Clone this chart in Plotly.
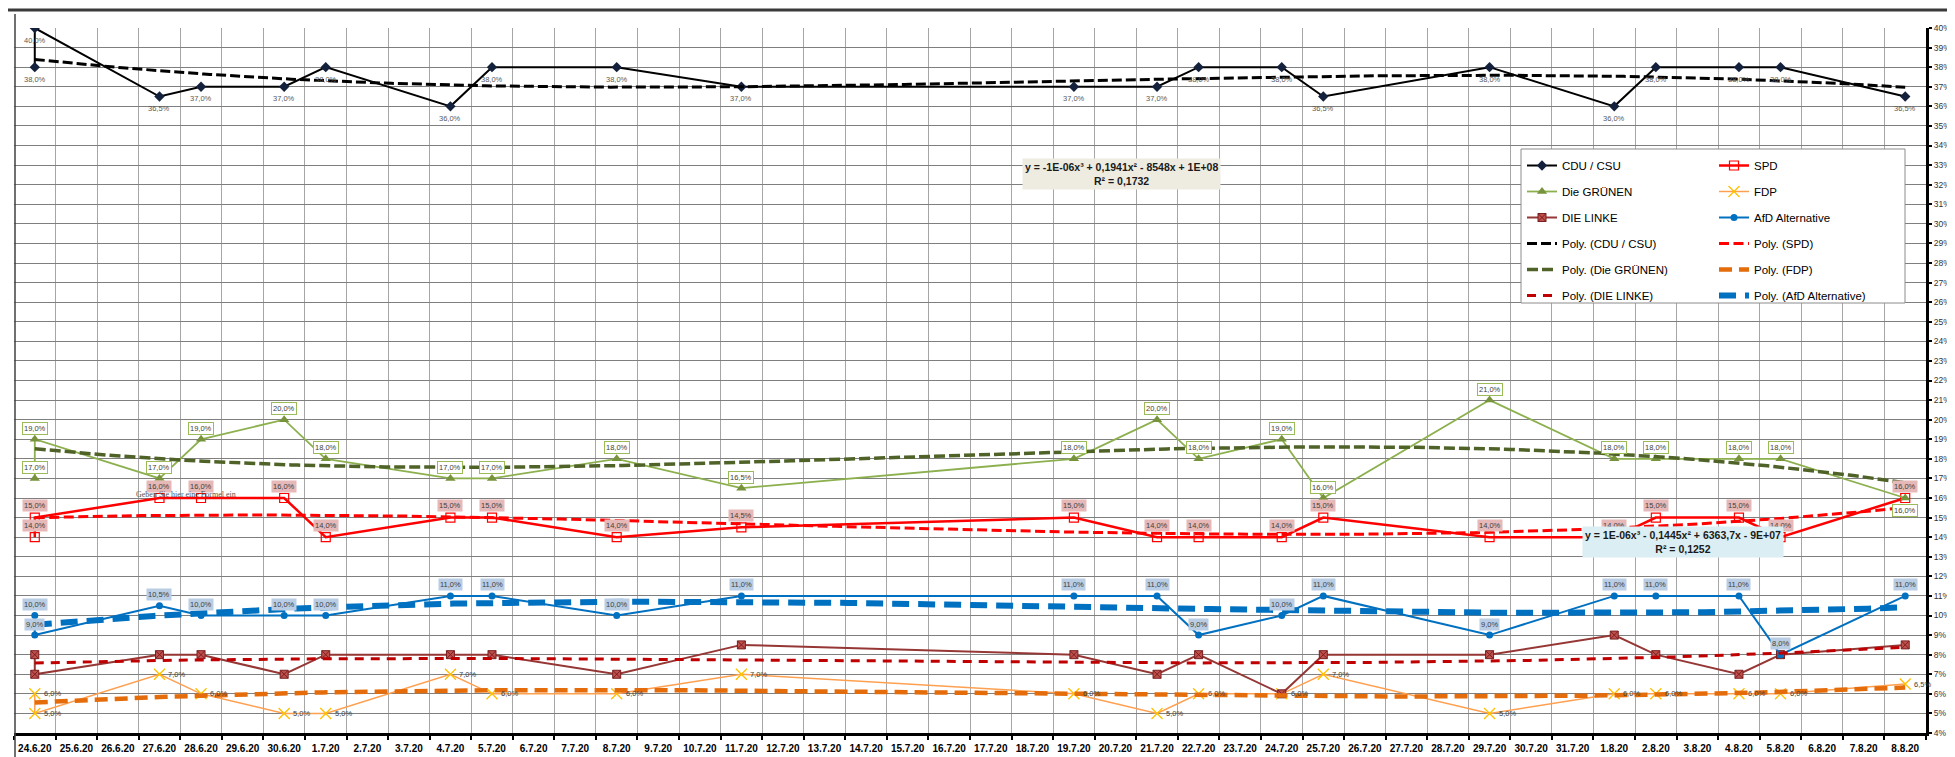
import numpy as np
import pandas as pd
import plotly.graph_objects as go

# ---------------- data ----------------
axis_days = ["24.6.20", "25.6.20", "26.6.20", "27.6.20", "28.6.20", "29.6.20", "30.6.20",
             "1.7.20", "2.7.20", "3.7.20", "4.7.20", "5.7.20", "6.7.20", "7.7.20", "8.7.20",
             "9.7.20", "10.7.20", "11.7.20", "12.7.20", "13.7.20", "14.7.20", "15.7.20",
             "16.7.20", "17.7.20", "18.7.20", "19.7.20", "20.7.20", "21.7.20", "22.7.20",
             "23.7.20", "24.7.20", "25.7.20", "26.7.20", "27.7.20", "28.7.20", "29.7.20",
             "30.7.20", "31.7.20", "1.8.20", "2.8.20", "3.8.20", "4.8.20", "5.8.20",
             "6.8.20", "7.8.20", "8.8.20"]

poll_dates = ["24.6.20", "24.6.20", "27.6.20", "28.6.20", "30.6.20", "1.7.20", "4.7.20",
              "5.7.20", "8.7.20", "11.7.20", "19.7.20", "21.7.20", "22.7.20", "24.7.20",
              "25.7.20", "29.7.20", "1.8.20", "2.8.20", "4.8.20", "5.8.20", "8.8.20"]

cdu    = [38, 40, 36.5, 37, 37, 38, 36, 38, 38, 37, 37, 37, 38, 38, 36.5, 38, 36, 38, 38, 38, 36.5]
spd    = [14, 15, 16, 16, 16, 14, 15, 15, 14, 14.5, 15, 14, 14, 14, 15, 14, 14, 15, 15, 14, 16]
gruene = [17, 19, 17, 19, 20, 18, 17, 17, 18, 16.5, 18, 20, 18, 19, 16, 21, 18, 18, 18, 18, 16]
fdp    = [6, 5, 7, 6, 5, 5, 7, 6, 6, 7, 6, 5, 6, 6, 7, 5, 6, 6, 6, 6, 6.5]
linke  = [8, 7, 8, 8, 7, 8, 8, 8, 7, 8.5, 8, 7, 8, 6, 8, 8, 9, 8, 7, 8, 8.5]
afd    = [10, 9, 10.5, 10, 10, 10, 11, 11, 10, 11, 11, 11, 9, 10, 11, 9, 11, 11, 11, 8, 11]

eq_cdu = "y = -1E-06x³ + 0,1941x² - 8548x + 1E+08<br>R² = 0,1732"
eq_afd = "y = 1E-06x³ - 0,1445x² + 6363,7x - 9E+07<br>R² = 0,1252"
formula_hint = "Geben Sie hier eine Formel ein"

# ---------------- helpers ----------------
def to_dt(s):
    return pd.to_datetime(s, format="%d.%m.%y")

axis_dt = [to_dt(d) for d in axis_days]
poll_dt = [to_dt(d) for d in poll_dates]
t0 = axis_dt[0]
poll_num = np.array([(d - t0).days for d in poll_dt], dtype=float)
fine_num = np.linspace(poll_num.min(), poll_num.max(), 300)
fine_dt = [t0 + pd.Timedelta(days=float(v)) for v in fine_num]

def fmt(v):
    return f"{v:.1f}".replace(".", ",") + "%"

FONT = "Liberation Sans, Arial, sans-serif"

W, H = 1955, 757
ML, MR, MT, MB = 6, 37, 20, 32
PW, PH = W - ML - MR, H - MT - MB

def px_x(px):
    return (px - ML) / PW

def px_y(py):
    return 1 - (py - MT) / PH

series = [
    dict(name="CDU / CSU", y=cdu, color="#000000", width=2,
         marker=dict(symbol="diamond", size=8, color="#14213D", line=dict(width=0)),
         legend="legend",
         trend=dict(color="#000000", width=3, dash="10px,4px"),
         label="cdu"),
    dict(name="SPD", y=spd, color="#FF0000", width=2.5,
         marker=dict(symbol="square-open", size=9, color="#FF0000", line=dict(width=1.2)),
         legend="legend2",
         trend=dict(color="#FF0000", width=3, dash="10px,4.5px"),
         label="spd"),
    dict(name="Die GRÜNEN", y=gruene, color="#8CB04E", width=1.8,
         marker=dict(symbol="triangle-up", size=9, color="#77933C", line=dict(width=0)),
         legend="legend",
         trend=dict(color="#4F6228", width=3.5, dash="11px,4px"),
         label="gruene"),
    dict(name="FDP", y=fdp, color="#FFA050", width=1.5,
         marker=dict(symbol="x-thin", size=11, color="#FFC000", line=dict(width=1.3, color="#FFC000")),
         legend="legend2",
         trend=dict(color="#E46C0A", width=4.5, dash="13px,7px"),
         label="fdp"),
    dict(name="DIE LINKE", y=linke, color="#953735", width=2,
         marker=dict(symbol="square-x", size=8, color="#C0504D", line=dict(width=1, color="#7A1F1F")),
         legend="legend",
         trend=dict(color="#C00000", width=3, dash="9px,7px"),
         label=None),
    dict(name="AfD Alternative", y=afd, color="#0070C0", width=2,
         marker=dict(symbol="circle", size=7, color="#0070C0", line=dict(width=0)),
         legend="legend2",
         trend=dict(color="#0070C0", width=6, dash="17px,9px"),
         label="afd"),
]

fig = go.Figure()

for i, s in enumerate(series):
    fig.add_trace(go.Scatter(
        x=poll_dt, y=s["y"], name=s["name"], mode="lines+markers",
        line=dict(color=s["color"], width=s["width"]),
        marker=s["marker"], legend=s["legend"], legendgroup=f"g{i}",
        showlegend=True, hoverinfo="skip"))

for i, s in enumerate(series):
    coef = np.polyfit(poll_num, np.array(s["y"], dtype=float), 3)
    fig.add_trace(go.Scatter(
        x=fine_dt, y=np.polyval(coef, fine_num), name=f"Poly. ({s['name']})",
        mode="lines", line=s["trend"], legend=s["legend"], legendgroup=f"t{i}",
        hoverinfo="skip"))

# ---------------- data labels ----------------
ann = []
lab_font = dict(family=FONT, size=7.5, color="#404040")
for s in series:
    kind = s["label"]
    if kind is None:
        continue
    for j, (d, v) in enumerate(zip(poll_dt, s["y"])):
        a = dict(x=d, y=v, xref="x", yref="y", text=fmt(v), showarrow=False,
                 font=lab_font)
        if kind == "cdu":
            a.update(yshift=-12, font=dict(family=FONT, size=7.5, color="#595959"))
        elif kind == "gruene":
            below = (j == len(poll_dt) - 1)
            a.update(yshift=-12 if below else 11, bgcolor="#FFFFFF",
                     bordercolor="#9BBB59", borderwidth=1, borderpad=1)
        elif kind == "spd":
            a.update(yshift=12, bgcolor="#E6B9B8", borderpad=1)
        elif kind == "afd":
            a.update(yshift=11, bgcolor="#B9CDE5", borderpad=1)
        elif kind == "fdp":
            a.update(xanchor="left", xshift=7)
        ann.append(a)

ann.append(dict(xref="paper", yref="paper", x=px_x(1113), y=px_y(150), text=eq_cdu,
                showarrow=False, bgcolor="#EEECE1", borderpad=2, align="center",
                font=dict(family=FONT, size=10.5, color="#1A1A1A", weight="bold")))
ann.append(dict(xref="paper", yref="paper", x=px_x(1776), y=px_y(550), text=eq_afd,
                showarrow=False, bgcolor="#DAEEF3", borderpad=2, align="center",
                font=dict(family=FONT, size=10.5, color="#1A1A1A", weight="bold")))
ann.append(dict(xref="paper", yref="paper", x=px_x(126), y=px_y(487), text=formula_hint,
                showarrow=False, font=dict(family="Liberation Serif, serif", size=8, color="#555555")))

# ---------------- shapes ----------------
shapes = [
    # legend frame
    dict(type="rect", xref="paper", yref="paper", x0=px_x(1513), x1=px_x(1897),
         y0=px_y(295), y1=px_y(141), fillcolor="#FFFFFF", line=dict(color="#8C8C8C", width=1),
         layer="above"),
    # worksheet strip at top
    dict(type="line", xref="paper", yref="paper", x0=px_x(0), x1=px_x(W), y0=px_y(2), y1=px_y(2),
         line=dict(color="#3A3A3A", width=3)),
    # chart border on the left
    dict(type="line", xref="paper", yref="paper", x0=px_x(7), x1=px_x(7), y0=px_y(6), y1=px_y(757),
         line=dict(color="#404040", width=1.5)),
]

half = pd.Timedelta(hours=12)
bounds = [d - half for d in axis_dt] + [axis_dt[-1] + half]

legend_common = dict(xref="paper", yref="paper", xanchor="left", yanchor="top",
                     bgcolor="rgba(0,0,0,0)", font=dict(family=FONT, size=11.5, color="#000000"),
                     traceorder="grouped", tracegroupgap=7, itemwidth=30)

fig.update_layout(
    width=W, height=H, autosize=False,
    margin=dict(l=ML, r=MR, t=MT, b=MB, autoexpand=False),
    paper_bgcolor="#FFFFFF", plot_bgcolor="#FFFFFF",
    font=dict(family=FONT, color="#000000"),
    annotations=ann, shapes=shapes,
    legend=dict(x=px_x(1514), y=px_y(143), **legend_common),
    legend2=dict(x=px_x(1706), y=px_y(143), **legend_common),
    xaxis=dict(type="date", range=[bounds[0], bounds[-1]],
               tickmode="array", tickvals=axis_dt, ticktext=axis_days, tickangle=0,
               ticks="outside", ticklen=4, tickcolor="rgba(0,0,0,0)",
               tickfont=dict(family=FONT, size=10, color="#000000", weight="bold"),
               showgrid=False, showline=True, linecolor="#000000", linewidth=3,
               zeroline=False,
               minor=dict(tickmode="array", tickvals=bounds, ticks="outside", ticklen=4,
                          tickcolor="#000000", tickwidth=2, showgrid=True,
                          gridcolor="#A6A6A6", gridwidth=1)),
    yaxis=dict(side="right", range=[4, 40], dtick=1, tick0=4, ticksuffix="%",
               ticks="outside", ticklen=3, tickcolor="#000000", tickwidth=1.5,
               tickfont=dict(family=FONT, size=8.5, color="#333333"),
               showgrid=True, gridcolor="#7F7F7F", gridwidth=1.2,
               showline=True, linecolor="#000000", linewidth=3, zeroline=False),
    showlegend=True,
)

fig.write_html("out.html")
